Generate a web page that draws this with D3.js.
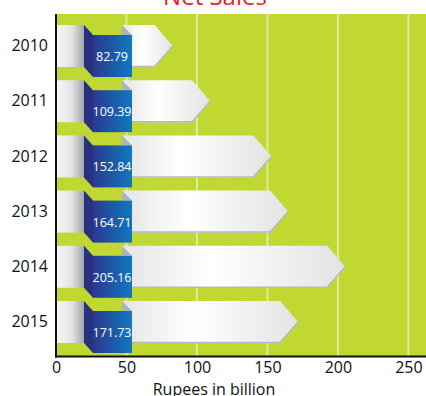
<!DOCTYPE html>
<html>
<head>
<meta charset="utf-8">
<script src="https://cdn.jsdelivr.net/npm/d3@7"></script>
<style>
  body { margin: 0; background: #fff; }
  svg { display: block; font-family: "Open Sans", sans-serif; }
</style>
</head>
<body>
<svg id="chart" width="426" height="396"></svg>
<script>
// values
const years = ["2010", "2011", "2012", "2013", "2014", "2015"];
const sales = [82.79, 109.39, 152.84, 164.71, 205.16, 171.73];
const xTicks = [0, 50, 100, 150, 200, 250];
const title = "Net Sales";
const xTitle = "Rupees in billion";

const svg = d3.select("#chart");
const plotLeft = 56, plotTop = 14, plotBottom = 356, plotRight = 426;

const x = d3.scaleLinear().domain([0, 262.5]).range([plotLeft, plotRight]);
const y = d3.scaleBand().domain(years).range([25, 353]).paddingInner(0.058);

// gradients
const defs = svg.append("defs");
function grad(id, stops) {
  const g = defs.append("linearGradient").attr("id", id)
    .attr("x1", "0%").attr("x2", "100%").attr("y1", "0%").attr("y2", "0%");
  stops.forEach(s => g.append("stop").attr("offset", s[0]).attr("stop-color", s[1]));
}
grad("blueGrad", [["0%", "#2b3990"], ["100%", "#0f78bf"]]);
grad("blockGrad", [["0%", "#f6f6f6"], ["55%", "#e2e3e4"], ["100%", "#a3a6a9"]]);
grad("arrowGrad", [["0%", "#e4e5e6"], ["40%", "#ffffff"], ["100%", "#e2e3e4"]]);

// plot background
svg.append("rect").attr("x", plotLeft).attr("y", plotTop)
  .attr("width", plotRight - plotLeft).attr("height", plotBottom - plotTop)
  .attr("fill", "#c1d832");

// grid lines
svg.append("g").selectAll("line")
  .data(xTicks.filter(d => d > 0))
  .join("line")
  .attr("x1", d => x(d)).attr("x2", d => x(d))
  .attr("y1", plotTop).attr("y2", plotBottom)
  .attr("stroke", "#e1eb9c").attr("stroke-width", 2);

const rows = svg.append("g").selectAll("g")
  .data(years.map((yr, i) => ({ yr, v: sales[i] })))
  .join("g")
  .attr("transform", d => `translate(0,${y(d.yr)})`);

const x0 = x(0);

// arrow body
rows.append("path")
  .attr("d", d => {
    const tip = x(d.v);
    return `M${x0 + 66},0 L${tip - 18},0 L${tip},21 L${tip - 18},42 L${x0 + 66},42 Z`;
  })
  .attr("fill", "url(#arrowGrad)");
rows.append("path")
  .attr("d", d => {
    const tip = x(d.v);
    return `M${x0 + 66},41.5 L${tip - 18},41.5 L${tip},21`;
  })
  .attr("fill", "none").attr("stroke", "#b6babd").attr("stroke-width", 1.5);
rows.append("path")
  .attr("d", `M${x0 + 66},0 L${x0 + 76},10 L${x0 + 66},10 Z`)
  .attr("fill", "#aab4ba");

// left white block
rows.append("rect")
  .attr("x", x0 + 1).attr("y", 0)
  .attr("width", 27).attr("height", 42)
  .attr("fill", "url(#blockGrad)");

// blue tag with fold
rows.append("path")
  .attr("d", `M${x0 + 28},0 L${x0 + 37},10 L${x0 + 37},52 L${x0 + 28},42 Z`)
  .attr("fill", "#27317e");
rows.append("rect")
  .attr("x", x0 + 37).attr("y", 10)
  .attr("width", 39).attr("height", 42)
  .attr("fill", "url(#blueGrad)");

rows.append("text")
  .attr("x", x0 + 56).attr("y", 36)
  .attr("text-anchor", "middle")
  .attr("fill", "#fff")
  .attr("font-size", 12.5)
  .text(d => d.v.toFixed(2));

// axes
const xAxis = svg.append("g")
  .attr("transform", `translate(0,${plotBottom})`)
  .call(d3.axisBottom(x).tickValues(xTicks).tickSize(0).tickPadding(6).tickFormat(d3.format("d")));
xAxis.select(".domain").remove();
xAxis.selectAll("text").attr("font-size", 16).attr("fill", "#111").attr("font-family", "Open Sans, sans-serif");

const yAxis = svg.append("g")
  .attr("transform", `translate(${plotLeft},-5)`)
  .call(d3.axisLeft(y).tickSize(0).tickPadding(8));
yAxis.select(".domain").remove();
yAxis.selectAll("text").attr("font-size", 16).attr("fill", "#111").attr("font-family", "Open Sans, sans-serif");

svg.append("line").attr("x1", plotLeft).attr("x2", plotLeft).attr("y1", plotTop).attr("y2", plotBottom + 1.5)
  .attr("stroke", "#111").attr("stroke-width", 2);
svg.append("line").attr("x1", plotLeft - 1).attr("x2", plotRight).attr("y1", plotBottom + 0.5).attr("y2", plotBottom + 0.5)
  .attr("stroke", "#111").attr("stroke-width", 2);

// titles
svg.append("text").attr("x", 215).attr("y", 5)
  .attr("text-anchor", "middle").attr("font-size", 24).attr("fill", "#ee1c25")
  .text(title);
svg.append("text").attr("x", 214).attr("y", 395)
  .attr("text-anchor", "middle").attr("font-size", 16).attr("fill", "#111")
  .text(xTitle);
</script>
</body>
</html>
